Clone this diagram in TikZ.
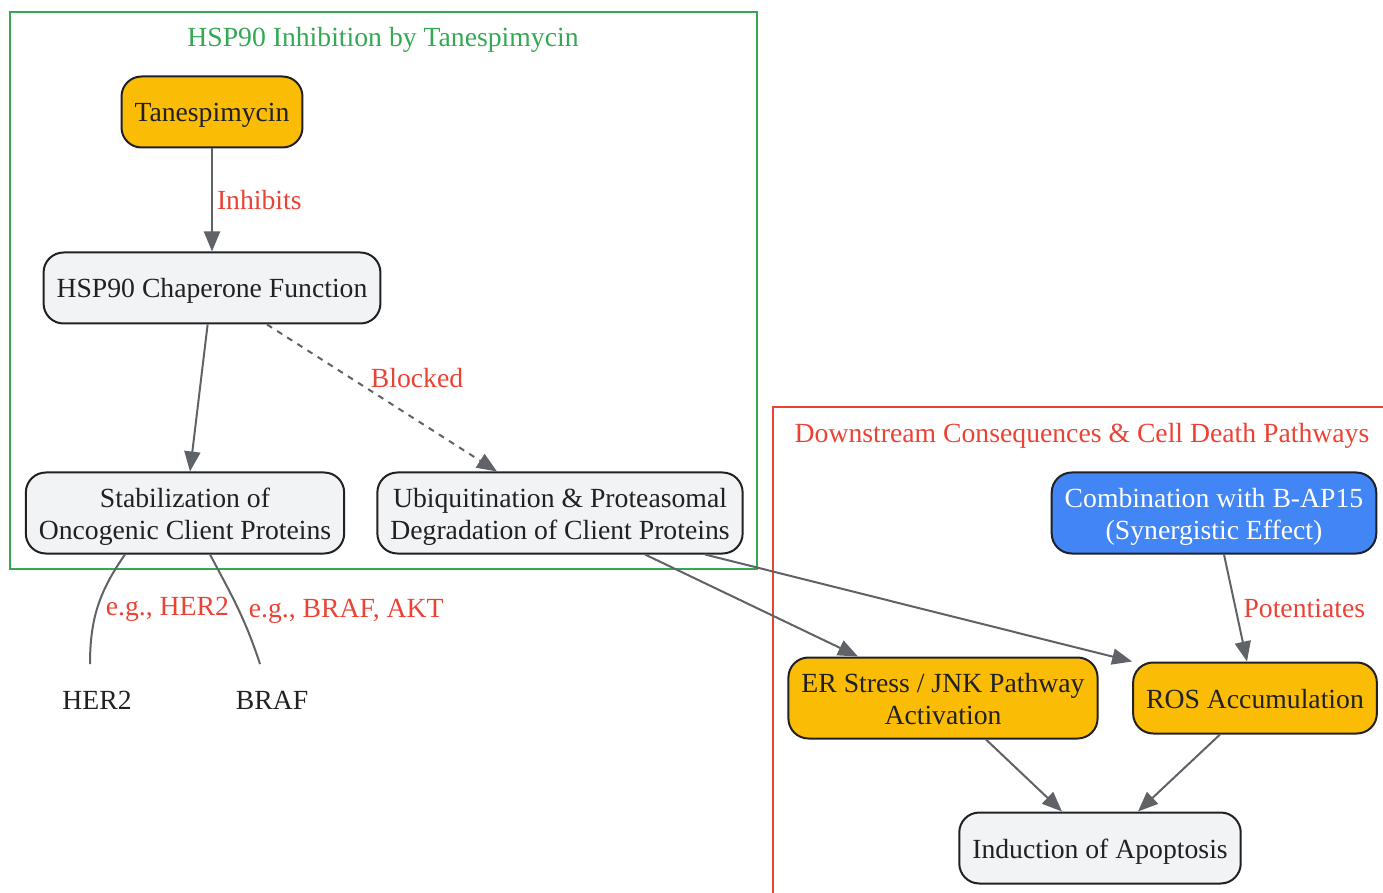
\documentclass[tikz,border=0pt]{standalone}
\usepackage{fontspec}
\setmainfont{Liberation Serif}
\usetikzlibrary{arrows.meta}
\definecolor{goldfill}{HTML}{FBBC05}
\definecolor{grayfill}{HTML}{F1F3F4}
\definecolor{bluefill}{HTML}{4285F4}
\definecolor{darkline}{HTML}{202124}
\definecolor{linkgray}{HTML}{5F6368}
\definecolor{redline}{HTML}{EA4335}
\definecolor{greenline}{HTML}{34A853}
\newcommand{\diagfont}{\fontsize{13.85}{16}\selectfont}
\tikzset{
  procbox/.style={draw=darkline, line width=1pt, rounded corners=10pt, fill=grayfill,
    text=darkline, align=center, inner xsep=6.5pt, inner ysep=4pt,
    text height=13pt, text depth=3pt,
    minimum height=35.5pt, font=\diagfont},
  twoline/.style={text height=29.5pt, text depth=3pt},
  drugbox/.style={procbox, fill=goldfill},
  combbox/.style={procbox, fill=bluefill, text=white},
  plainlbl/.style={text=darkline, minimum height=35.5pt, font=\diagfont},
  flow/.style={draw=linkgray, line width=1pt, -{Triangle[length=10pt,width=8pt]}},
  edgelbl/.style={text=redline, font=\diagfont, inner sep=2pt},
  grouptitle/.style={font=\diagfont},
}
\begin{document}
\begin{tikzpicture}[x=0.5pt, y=-0.5pt]
  \useasboundingbox (0,0) rectangle (1383,893);
  % group frames
  \draw[greenline, line width=1pt] (10,12) rectangle (757,569);
  \node[grouptitle, text=greenline] (inhtitle) at (383,40) {HSP90 Inhibition by Tanespimycin};
  \draw[redline, line width=1pt] (773,407) rectangle (1400,910);
  \node[grouptitle, text=redline] (downtitle) at (1082,436) {Downstream Consequences \& Cell Death Pathways};
  % nodes
  \node[drugbox] (tane) at (212,112) {Tanespimycin};
  \node[procbox] (hsp) at (212,288) {HSP90 Chaperone Function};
  \node[procbox, twoline] (stab) at (185,513) {Stabilization of\\Oncogenic Client Proteins};
  \node[procbox, twoline] (ubi) at (560,513) {Ubiquitination \& Proteasomal\\Degradation of Client Proteins};
  \node[plainlbl] (her2) at (97,700) {HER2};
  \node[plainlbl] (braf) at (272,700) {BRAF};
  \node[combbox, twoline] (comb) at (1214,513) {Combination with B-AP15\\(Synergistic Effect)};
  \node[drugbox, twoline] (er) at (943,698) {ER Stress / JNK Pathway\\Activation};
  \node[drugbox] (ros) at (1255,698) {ROS Accumulation};
  \node[procbox] (apo) at (1100,848) {Induction of Apoptosis};
  % edges
  \draw[flow] (tane) -- node[edgelbl, right] {Inhibits} (hsp);
  \draw[flow] (hsp) -- (stab);
  \draw[flow, dashed] ([xshift=27.5pt]hsp.south) -- node[edgelbl, xshift=17.5pt, yshift=10pt] {Blocked} ([xshift=-31.5pt]ubi.north);
  \draw[draw=linkgray, line width=1pt] ([xshift=-30pt]stab.south) to[out=-125, in=90] node[edgelbl, pos=0.5, anchor=west, xshift=1.5pt, yshift=-1.5pt] {e.g., HER2} ([xshift=-3.5pt]her2.north);
  \draw[draw=linkgray, line width=1pt] ([xshift=12.5pt]stab.south) to[out=-62, in=108] node[edgelbl, pos=0.5, anchor=west, xshift=3pt, yshift=-1.5pt] {e.g., BRAF, AKT} ([xshift=-6pt]braf.north);
  \draw[flow] ([xshift=42.5pt]ubi.south) -- ([xshift=-42.5pt]er.north);
  \draw[flow] ([xshift=72.5pt]ubi.south) -- (ros.north west);
  \draw[flow] ([xshift=5pt]comb.south) -- node[edgelbl, right, xshift=1.5pt] {Potentiates} ([xshift=-4pt]ros.north);
  \draw[flow] ([xshift=21.5pt]er.south) -- ([xshift=-19pt]apo.north);
  \draw[flow] ([xshift=-17.5pt]ros.south) -- ([xshift=19pt]apo.north);
\end{tikzpicture}
\end{document}
